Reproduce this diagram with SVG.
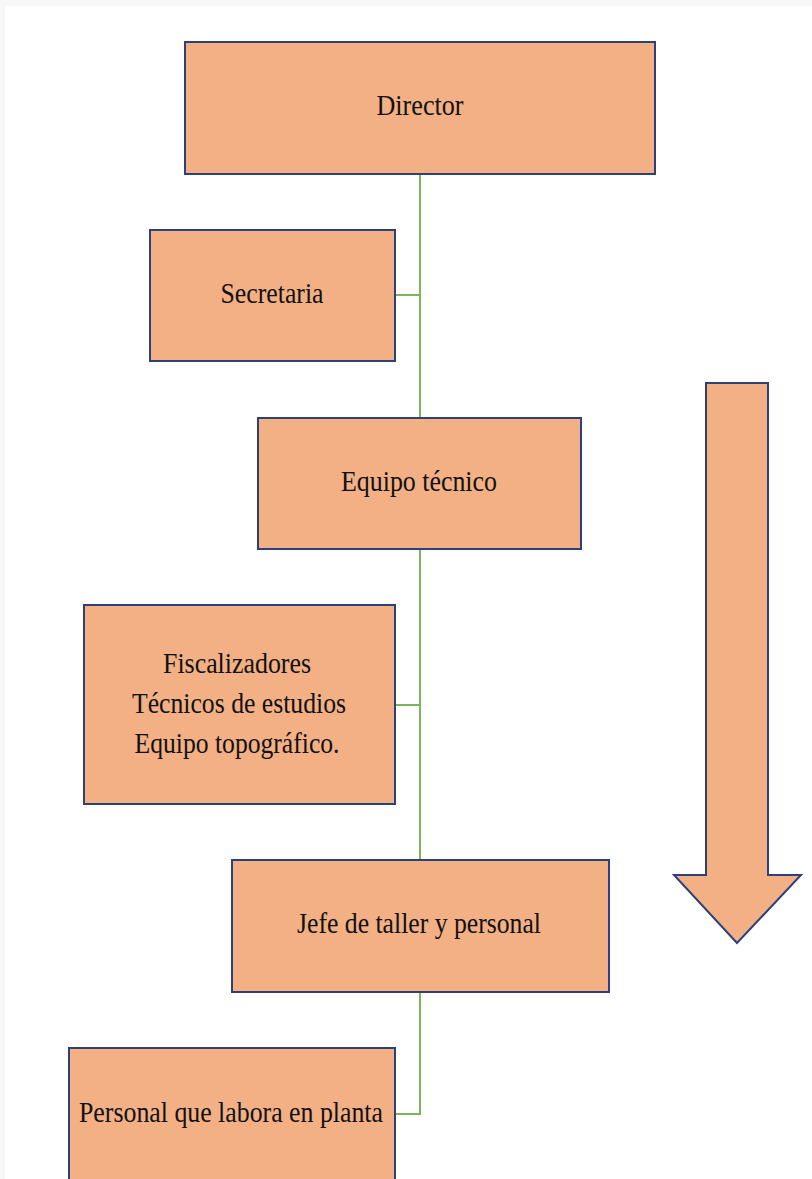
<svg xmlns="http://www.w3.org/2000/svg" width="812" height="1179" viewBox="0 0 812 1179">
  <style>
    .box { fill: #f3b084; stroke: #2e4079; stroke-width: 2; }
    .lbl { font-family: "Liberation Serif", "Times New Roman", serif; font-size: 29px; fill: #111; text-anchor: middle; }
    .link { fill: none; stroke: #7fb55a; stroke-width: 2; }
  </style>
  <rect x="0" y="0" width="812" height="1179" fill="#ffffff"/>
  <rect x="0" y="0" width="812" height="6" fill="#f7f7f7"/>
  <rect x="0" y="0" width="5" height="1179" fill="#f7f7f7"/>

  <!-- connectors -->
  <g id="connectors">
    <path class="link" d="M420 174 V860"/>
    <path class="link" d="M395 295 H420"/>
    <path class="link" d="M395 705 H420"/>
    <path class="link" d="M420 992 V1114 H395"/>
  </g>

  <g id="director">
    <rect class="box" x="185" y="42" width="470" height="132"/>
    <text class="lbl" x="420" y="115" textLength="87" lengthAdjust="spacingAndGlyphs">Director</text>
  </g>

  <g id="secretaria">
    <rect class="box" x="150" y="230" width="245" height="131"/>
    <text class="lbl" x="272" y="303" textLength="103" lengthAdjust="spacingAndGlyphs">Secretaria</text>
  </g>

  <g id="equipo-tecnico">
    <rect class="box" x="258" y="418" width="323" height="131"/>
    <text class="lbl" x="419" y="491" textLength="156" lengthAdjust="spacingAndGlyphs">Equipo técnico</text>
  </g>

  <g id="fiscalizadores">
    <rect class="box" x="84" y="605" width="311" height="199"/>
    <text class="lbl" x="237" y="673" textLength="148" lengthAdjust="spacingAndGlyphs">Fiscalizadores</text>
    <text class="lbl" x="239" y="713" textLength="214" lengthAdjust="spacingAndGlyphs">Técnicos de estudios</text>
    <text class="lbl" x="237" y="753" textLength="205" lengthAdjust="spacingAndGlyphs">Equipo topográfico.</text>
  </g>

  <g id="jefe-taller">
    <rect class="box" x="232" y="860" width="377" height="132"/>
    <text class="lbl" x="419" y="933" textLength="244" lengthAdjust="spacingAndGlyphs">Jefe de taller y personal</text>
  </g>

  <g id="personal-planta">
    <rect class="box" x="69" y="1048" width="326" height="140"/>
    <text class="lbl" x="231" y="1122" textLength="304" lengthAdjust="spacingAndGlyphs">Personal que labora en planta</text>
  </g>

  <g id="flecha">
    <path class="box" d="M706 383 H768 V875 H801 L737 943 L674 875 H706 Z" stroke-linejoin="miter"/>
  </g>
</svg>
